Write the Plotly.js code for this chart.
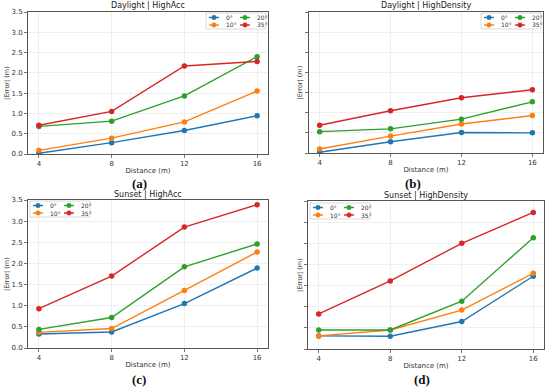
<!DOCTYPE html>
<html>
<head>
<meta charset="utf-8">
<script src="https://cdn.plot.ly/plotly-3.0.1.min.js"></script>
<style>html,body{margin:0;padding:0;background:#fff;}#chart{width:550px;height:388px;}</style>
</head>
<body>
<div id="chart"></div>
<script>
// ---- data ----
var distances = [4, 8, 12, 16];
var angleLabels = ['0°', '10°', '20°', '35°'];
var panelTitles = ['Daylight | HighAcc', 'Daylight | HighDensity', 'Sunset | HighAcc', 'Sunset | HighDensity'];
var panelCaptions = ['(a)', '(b)', '(c)', '(d)'];
var xTickLabels = ['4', '8', '12', '16'];

// Daylight | HighAcc
var dayAcc0  = [0.02, 0.28, 0.58, 0.94];
var dayAcc10 = [0.09, 0.39, 0.79, 1.55];
var dayAcc20 = [0.68, 0.81, 1.43, 2.40];
var dayAcc35 = [0.71, 1.05, 2.17, 2.28];
// Daylight | HighDensity
var dayDen0  = [0.02, 0.28, 0.51, 0.50];
var dayDen10 = [0.10, 0.42, 0.72, 0.93];
var dayDen20 = [0.53, 0.60, 0.84, 1.27];
var dayDen35 = [0.69, 1.05, 1.37, 1.57];
// Sunset | HighAcc
var sunAcc0  = [0.33, 0.38, 1.05, 1.89];
var sunAcc10 = [0.37, 0.46, 1.36, 2.27];
var sunAcc20 = [0.44, 0.72, 1.92, 2.46];
var sunAcc35 = [0.93, 1.70, 2.86, 3.39];
// Sunset | HighDensity
var sunDen0  = [0.31, 0.30, 0.65, 1.72];
var sunDen10 = [0.31, 0.45, 0.92, 1.79];
var sunDen20 = [0.45, 0.45, 1.13, 2.63];
var sunDen35 = [0.83, 1.61, 2.50, 3.23];

var panelSeries = [
  [dayAcc0, dayAcc10, dayAcc20, dayAcc35],
  [dayDen0, dayDen10, dayDen20, dayDen35],
  [sunAcc0, sunAcc10, sunAcc20, sunAcc35],
  [sunDen0, sunDen10, sunDen20, sunDen35]
];

// ---- styling / layout ----
var W = 550, H = 388;
var colors = ['#1f77b4', '#ff7f0e', '#2ca02c', '#d62728'];
function PX(p) { return p / W; }
function PY(p) { return 1 - p / H; }

// plot areas in pixels [left, right, top, bottom]
var boxes = [
  [28, 268, 12, 154],
  [309, 543, 12, 153],
  [28, 268, 200, 348],
  [308, 544, 201, 349]
];
var legendPos = [[206, 13], [481, 13], [30, 201], [310, 203]];
var showYLabels = [true, false, true, false];
var yTitleX = [7, 299, 7, 300];
var titleY = [6, 6, 194, 195];
var captionPos = [[139, 183], [413, 183], [139, 379], [422, 379]];

var traces = [];
var layout = {
  width: W, height: H,
  margin: {l: 0, r: 0, t: 0, b: 0},
  paper_bgcolor: '#fff', plot_bgcolor: '#fff',
  showlegend: false,
  font: {family: 'DejaVu Sans, sans-serif', size: 7, color: '#222'},
  shapes: [], annotations: []
};
var fontMain = 'DejaVu Sans, sans-serif';

for (var p = 0; p < 4; p++) {
  var b = boxes[p];
  var xa = 'xaxis' + (p === 0 ? '' : p + 1);
  var ya = 'yaxis' + (p === 0 ? '' : p + 1);
  var xr = 'x' + (p === 0 ? '' : p + 1);
  var yr = 'y' + (p === 0 ? '' : p + 1);
  for (var s = 0; s < 4; s++) {
    traces.push({
      x: distances, y: panelSeries[p][s], name: angleLabels[s],
      xaxis: xr, yaxis: yr, type: 'scatter', mode: 'lines+markers',
      line: {color: colors[s], width: 1.4},
      marker: {color: colors[s], size: 5.5},
      hoverinfo: 'skip'
    });
  }
  layout[xa] = {
    domain: [PX(b[0]), PX(b[1])], anchor: yr,
    range: [3.4, 16.6], tickvals: distances, ticktext: xTickLabels,
    showline: true, mirror: true, linecolor: '#555', linewidth: 1,
    ticks: 'outside', ticklen: 3, tickwidth: 0.8, tickcolor: '#555',
    showgrid: true, gridcolor: '#ebebeb', gridwidth: 0.8, zeroline: false,
    tickfont: {size: 7, color: '#333', family: fontMain},
    title: {text: 'Distance (m)', font: {size: 7, color: '#333', family: fontMain}, standoff: 0}
  };
  layout[ya] = {
    domain: [PY(b[3]), PY(b[2])], anchor: xr,
    range: [0, 3.5], dtick: 0.5, tick0: 0, tickformat: '.1f',
    showline: true, mirror: true, linecolor: '#555', linewidth: 1,
    ticks: 'outside', ticklen: 3, tickwidth: 0.8, tickcolor: '#555',
    showgrid: true, gridcolor: '#ebebeb', gridwidth: 0.8, zeroline: false,
    showticklabels: showYLabels[p],
    tickfont: {size: 7, color: '#333', family: fontMain}
  };
  // y axis title
  layout.annotations.push({
    xref: 'paper', yref: 'paper', x: PX(yTitleX[p]), y: PY((b[2] + b[3]) / 2),
    text: '|Error| (m)', textangle: -90, showarrow: false,
    xanchor: 'center', yanchor: 'middle',
    font: {size: 6.5, color: '#333', family: fontMain}
  });
  // subplot title
  layout.annotations.push({
    xref: 'paper', yref: 'paper', x: PX((b[0] + b[1]) / 2), y: PY(titleY[p]),
    text: panelTitles[p], showarrow: false, xanchor: 'center', yanchor: 'middle',
    font: {size: 8, color: '#222', family: fontMain}
  });
  // caption
  layout.annotations.push({
    xref: 'paper', yref: 'paper', x: PX(captionPos[p][0]), y: PY(captionPos[p][1]),
    text: '<b>' + panelCaptions[p] + '</b>', showarrow: false, xanchor: 'center', yanchor: 'middle',
    font: {size: 13, color: '#111', family: 'Liberation Serif, serif'}
  });
  // legend box
  var L = legendPos[p][0], T = legendPos[p][1];
  layout.shapes.push({
    type: 'rect', xref: 'paper', yref: 'paper',
    x0: PX(L), x1: PX(L + 60), y0: PY(T + 16), y1: PY(T),
    line: {color: '#d0d0d0', width: 0.8}, fillcolor: 'rgba(255,255,255,0.85)', layer: 'above'
  });
  for (var s2 = 0; s2 < 4; s2++) {
    var col = Math.floor(s2 / 2), row = s2 % 2;
    var lx = L + 3 + col * 31, ly = T + 4.5 + row * 7.5;
    layout.shapes.push({
      type: 'line', xref: 'paper', yref: 'paper',
      x0: PX(lx), x1: PX(lx + 10), y0: PY(ly), y1: PY(ly),
      line: {color: colors[s2], width: 1.4}, layer: 'above'
    });
    layout.shapes.push({
      type: 'circle', xref: 'paper', yref: 'paper',
      xsizemode: 'pixel', ysizemode: 'pixel',
      xanchor: PX(lx + 5), yanchor: PY(ly),
      x0: -2.3, x1: 2.3, y0: -2.3, y1: 2.3,
      fillcolor: colors[s2], line: {color: colors[s2], width: 0.5}, layer: 'above'
    });
    layout.annotations.push({
      xref: 'paper', yref: 'paper', x: PX(lx + 15), y: PY(ly),
      text: angleLabels[s2], showarrow: false, xanchor: 'left', yanchor: 'middle',
      font: {size: 6, color: '#333', family: fontMain}
    });
  }
}

Plotly.newPlot('chart', traces, layout, {staticPlot: true, displayModeBar: false});
</script>
</body>
</html>
